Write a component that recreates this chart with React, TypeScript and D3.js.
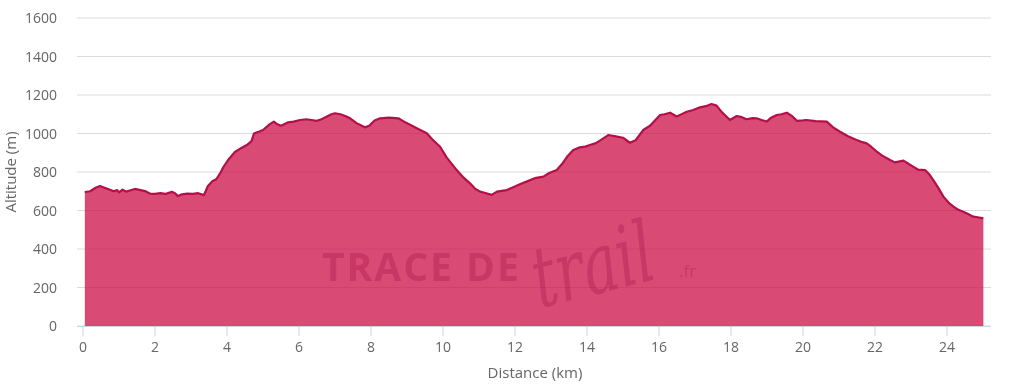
import React from "react";
import * as d3 from "d3";

const distances = [
  0.05, 0.2, 0.35, 0.47, 0.6, 0.75, 0.85, 0.95, 1.0, 1.1, 1.2, 1.3, 1.44, 1.6, 1.72, 1.86, 2.0, 2.15, 2.28, 2.47,
  2.55, 2.64, 2.75, 2.9, 3.05, 3.2, 3.36, 3.47, 3.6, 3.7, 3.8, 3.9, 4.03, 4.22, 4.4, 4.55, 4.68, 4.75, 4.9, 5.0,
  5.19, 5.3, 5.4, 5.5, 5.7, 5.85, 6.03, 6.2, 6.35, 6.49, 6.6, 6.75, 6.9, 7.0, 7.15, 7.3, 7.42, 7.6, 7.83, 7.95,
  8.1, 8.25, 8.5, 8.76, 8.95, 9.18, 9.3, 9.55, 9.7, 9.92, 10.1, 10.38, 10.55, 10.75, 10.9, 11.03, 11.15, 11.35, 11.5, 11.77,
  12.0, 12.15, 12.32, 12.55, 12.79, 12.95, 13.16, 13.3, 13.45, 13.62, 13.8, 13.95, 14.08, 14.25, 14.4, 14.59, 14.8, 15.0, 15.19, 15.35,
  15.56, 15.75, 16.03, 16.15, 16.31, 16.49, 16.6, 16.77, 16.95, 17.14, 17.3, 17.46, 17.6, 17.75, 17.97, 18.16, 18.3, 18.43, 18.6, 18.71,
  18.85, 18.99, 19.1, 19.27, 19.4, 19.55, 19.7, 19.83, 20.0, 20.1, 20.35, 20.66, 20.85, 21.03, 21.25, 21.49, 21.6, 21.77, 21.9, 22.05,
  22.2, 22.42, 22.55, 22.79, 22.95, 23.06, 23.2, 23.39, 23.5, 23.62, 23.75, 23.9, 24.05, 24.18, 24.3, 24.45, 24.6, 24.73, 24.85, 25.01,
];
const altitudes = [
  696, 700, 718, 727, 718, 708, 700, 706, 694, 708, 698, 704, 712, 706, 701, 688, 686, 690, 686, 697,
  690, 675, 684, 688, 686, 690, 680, 727, 753, 762, 790, 826, 862, 904, 925, 940, 960, 1000, 1010, 1018,
  1049, 1062, 1048, 1040, 1058, 1062, 1070, 1074, 1070, 1066, 1072, 1086, 1100, 1105, 1100, 1090, 1079, 1054, 1032, 1040,
  1068, 1079, 1082, 1079, 1058, 1036, 1025, 1001, 970, 931, 876, 810, 775, 741, 712, 698, 692, 681, 698, 706,
  725, 738, 750, 768, 776, 795, 810, 840, 880, 914, 928, 932, 940, 950, 968, 992, 985, 978, 952, 965,
  1018, 1040, 1096, 1100, 1108, 1088, 1098, 1113, 1122, 1136, 1142, 1153, 1145, 1110, 1070, 1091, 1085, 1074, 1080, 1079,
  1070, 1062, 1080, 1096, 1100, 1108, 1090, 1066, 1068, 1070, 1064, 1062, 1030, 1009, 986, 966, 958, 949, 930, 906,
  885, 862, 850, 859, 840, 828, 812, 810, 790, 758, 720, 672, 640, 620, 605, 594, 580, 568, 565, 559,
];
const xTicks = [0, 2, 4, 6, 8, 10, 12, 14, 16, 18, 20, 22, 24];
const yTicks = [0, 200, 400, 600, 800, 1000, 1200, 1400, 1600];

const FONT = "'Open Sans', 'DejaVu Sans', sans-serif";

export default function App() {
  const W = 1024, H = 384;
  const x = d3.scaleLinear().domain([0, 25]).range([83, 983]);
  const y = d3.scaleLinear().domain([0, 1600]).range([326, 18]);
  const data = distances.map((d, i) => [d, altitudes[i]] as [number, number]);
  const area = d3.area<[number, number]>().x(d => x(d[0])).y0(y(0)).y1(d => y(d[1]));
  const line = d3.line<[number, number]>().x(d => x(d[0])).y(d => y(d[1]));
  const gx0 = 77, gx1 = 991;
  return (
    <svg width={W} height={H} style={{ position: "absolute", left: 0, top: 0, background: "#fff" }} fontFamily={FONT}>
      {yTicks.map(t => (
        <line key={"g" + t} x1={gx0} x2={gx1} y1={y(t)} y2={y(t)} stroke="#dcdcdc" strokeWidth={1} />
      ))}
      <path d={area(data) || ""} fill="rgb(204,15,70)" fillOpacity={0.75} />
      <g fill="#b01a50" opacity={0.4}>
        <text x={322} y={281} fontSize={39} fontWeight={700} fontFamily={FONT} letterSpacing={2}>TRACE DE</text>
        <text transform="translate(540,308) rotate(-14) scale(1,1.45)" fontSize={58} fontStyle="italic" fontFamily="'DejaVu Serif', serif">trail</text>
        <text x={679} y={277} fontSize={17} fontFamily={FONT}>.fr</text>
      </g>
      <path d={line(data) || ""} fill="none" stroke="#b3104a" strokeWidth={2.2} strokeLinejoin="round" />
      <line x1={gx0} x2={gx1} y1={326.5} y2={326.5} stroke="#ccd6eb" strokeWidth={1} />
      {xTicks.map(t => (
        <g key={"x" + t}>
          <line x1={x(t)} x2={x(t)} y1={327} y2={336} stroke="#ccd6eb" strokeWidth={1} />
          <text x={x(t)} y={352} textAnchor="middle" fontSize={14} fill="#666">{t}</text>
        </g>
      ))}
      {yTicks.map(t => (
        <text key={"y" + t} x={57} y={y(t) + 5} textAnchor="end" fontSize={14} fill="#666">{t}</text>
      ))}
      <text x={535} y={378} textAnchor="middle" fontSize={15} fill="#666">Distance (km)</text>
      <text transform={`translate(16,${172}) rotate(-90)`} textAnchor="middle" fontSize={15} fill="#666">Altitude (m)</text>
    </svg>
  );
}
